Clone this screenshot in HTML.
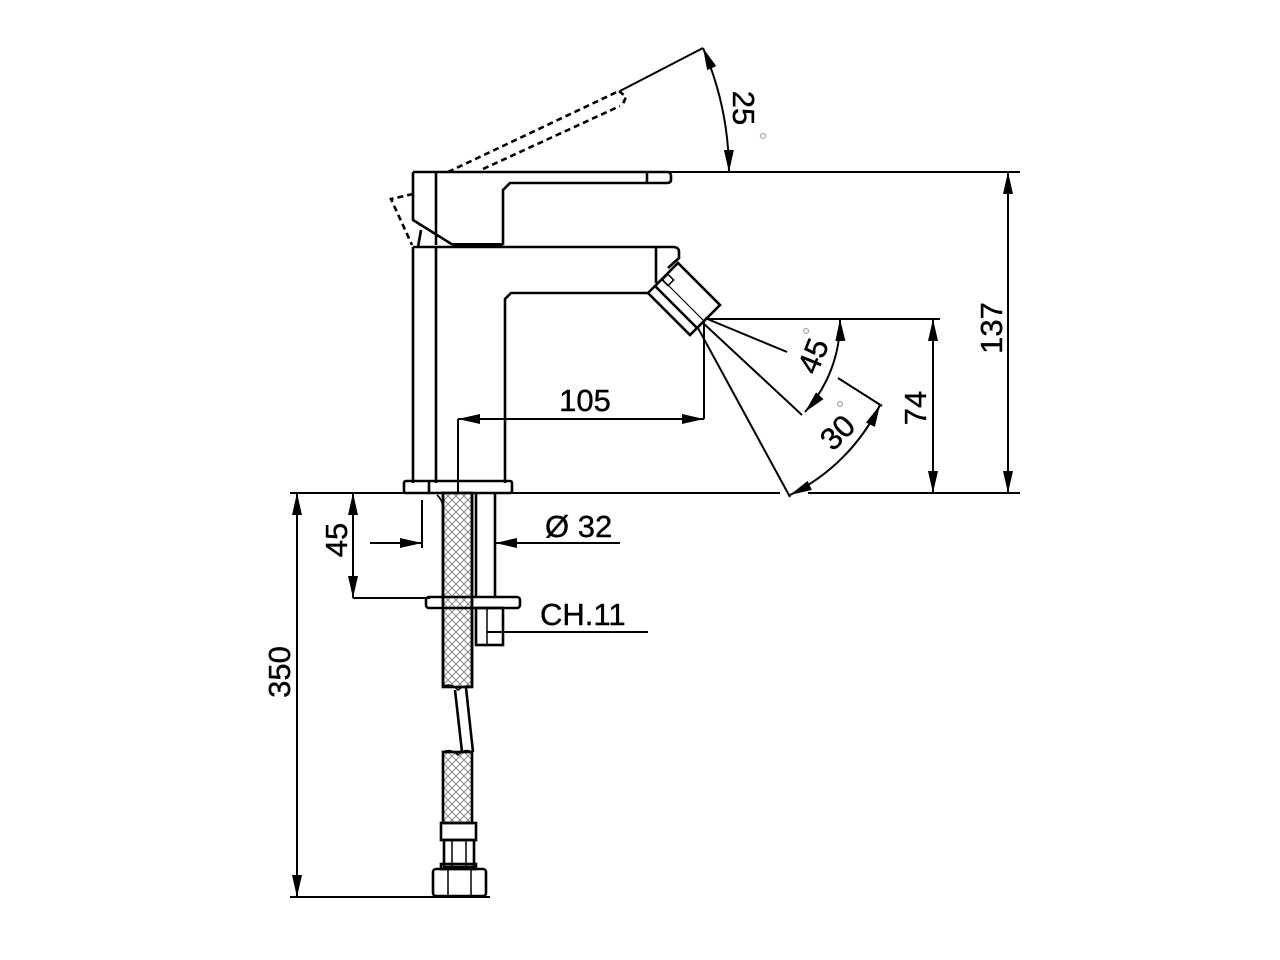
<!DOCTYPE html>
<html><head><meta charset="utf-8"><style>html,body{margin:0;padding:0;background:#fff}svg{display:block}</style></head>
<body>
<svg width="1280" height="960" viewBox="0 0 1280 960" xmlns="http://www.w3.org/2000/svg" font-family="Liberation Sans, sans-serif">
<defs>
<marker id="a" viewBox="0 0 22 10" refX="22" refY="5" markerWidth="22" markerHeight="10" markerUnits="userSpaceOnUse" orient="auto-start-reverse">
<path d="M0,0 L22,5 L0,10 Z" fill="#000"/></marker>
<pattern id="h" width="8" height="8" patternUnits="userSpaceOnUse">
<rect width="8" height="8" fill="#fff"/>
<path d="M0,0 L8,8 M8,0 L0,8" stroke="#888" stroke-width="1"/></pattern>
</defs>
<g stroke="#000" fill="none" stroke-width="2.6">
<line x1="290" y1="493" x2="780" y2="493" stroke-width="2"/>
<line x1="808" y1="493" x2="1020" y2="493" stroke-width="2"/>
<path d="M413,172 L668,172 Q671,172 671,177 L671,180 Q671,183 666,183 L510,183 L503,190 L503,245"/>
<line x1="647" y1="172" x2="647" y2="183"/>
<path d="M413,172 L413,220 L453,245 L503,245"/>
<line x1="436" y1="172" x2="436" y2="245"/>
<line x1="453" y1="245" x2="503" y2="245" stroke-width="4"/>
<line x1="418" y1="247" x2="421" y2="230"/>
<g stroke-dasharray="6,4">
<line x1="448" y1="172" x2="619" y2="91"/>
<line x1="483" y1="169" x2="620" y2="106"/>
<path d="M619,91 L626,97 L622,106"/>
<path d="M413,194 L391,199 L412,245"/>
</g>
<line x1="620" y1="91" x2="703" y2="48" stroke-width="2"/>
<path d="M413,247 L673,247 Q679,247 679,252 L679,258 L668,268"/>
<line x1="656" y1="247" x2="656" y2="283"/>
<path d="M648,293 L511,293 L505,299 L505,483"/>
<line x1="413" y1="247" x2="413" y2="483"/>
<line x1="436" y1="247" x2="436" y2="483"/>
<rect x="404" y="481" width="108" height="12" rx="2"/>
<line x1="429" y1="481" x2="429" y2="493"/>
<polygon points="648,293 678,263 720,305 690,335"/>
<line x1="655" y1="286" x2="697" y2="328"/>
<line x1="662" y1="279" x2="704" y2="321" stroke-width="1.2"/>
<rect x="664" y="276" width="8" height="8" transform="rotate(45 668 280)" stroke-width="1.5"/>
<g stroke-width="2">
<line x1="705" y1="318" x2="787" y2="352"/>
<line x1="702" y1="322" x2="802" y2="415"/>
<line x1="698" y1="328" x2="790" y2="497"/>
<line x1="838" y1="378" x2="882" y2="406"/>
<line x1="705" y1="319" x2="940" y2="319"/>
<line x1="704" y1="322" x2="704" y2="419"/>
<line x1="458" y1="419" x2="458" y2="493"/>
<line x1="458" y1="419" x2="704" y2="419" marker-start="url(#a)" marker-end="url(#a)"/>
<line x1="933" y1="319" x2="933" y2="493" marker-start="url(#a)" marker-end="url(#a)"/>
<line x1="668" y1="172" x2="1020" y2="172"/>
<line x1="1008" y1="172" x2="1008" y2="493" marker-start="url(#a)" marker-end="url(#a)"/>
<path d="M840,319 A135,135 0 0 1 805,412" marker-start="url(#a)" marker-end="url(#a)"/>
<path d="M880,405 A195,195 0 0 1 790,495" marker-start="url(#a)" marker-end="url(#a)"/>
<path d="M703,48 A316,316 0 0 1 729,172" marker-start="url(#a)" marker-end="url(#a)"/>
<line x1="297" y1="493" x2="297" y2="897" marker-start="url(#a)" marker-end="url(#a)"/>
<line x1="353" y1="493" x2="353" y2="598" marker-start="url(#a)" marker-end="url(#a)"/>
<line x1="353" y1="598" x2="430" y2="598"/>
<line x1="422" y1="500" x2="422" y2="548"/>
<line x1="370" y1="543" x2="422" y2="543" marker-end="url(#a)"/>
<line x1="620" y1="543" x2="495" y2="543" marker-end="url(#a)"/>
<line x1="487" y1="632" x2="648" y2="632"/>
<line x1="290" y1="897" x2="490" y2="897"/>
</g>
<rect x="443" y="493" width="29" height="194" fill="url(#h)"/>
<line x1="443" y1="493" x2="443" y2="687"/>
<line x1="472" y1="493" x2="472" y2="687"/>
<path d="M443,687 Q450,682 458,690 Q465,684 472,687" stroke-width="1.5"/>
<path d="M437,495 Q443,500 443,510" stroke-width="1.5"/>
<line x1="476" y1="493" x2="476" y2="598"/>
<line x1="495" y1="493" x2="495" y2="598"/>
<rect x="426" y="597" width="94" height="11" rx="3"/>
<rect x="476" y="608" width="27" height="37"/>
<line x1="487" y1="608" x2="487" y2="645" stroke-width="1.5"/>
<line x1="455" y1="690" x2="462" y2="752"/>
<line x1="466" y1="688" x2="473" y2="752"/>
<rect x="443" y="752" width="29" height="71" fill="url(#h)"/>
<path d="M443,752 Q450,748 458,755 Q465,748 472,752" stroke-width="1.5"/>
<rect x="441" y="823" width="35" height="17"/>
<rect x="444" y="840" width="30" height="27"/>
<line x1="452" y1="840" x2="452" y2="867" stroke-width="1.5"/>
<line x1="466" y1="840" x2="466" y2="867" stroke-width="1.5"/>
<rect x="441" y="864" width="35" height="5"/>
<rect x="433" y="869" width="53" height="27" rx="3"/>
<line x1="448" y1="869" x2="448" y2="896" stroke-width="1.5"/>
<line x1="471" y1="869" x2="471" y2="896" stroke-width="1.5"/>
</g>
<g fill="none" stroke="#aaa" stroke-width="1.2">
<circle cx="763" cy="136" r="2.5"/><circle cx="806" cy="331" r="2.5"/><circle cx="840" cy="404" r="2.5"/>
</g>
<g fill="#000" font-size="31" stroke="#000" stroke-width="0.4">
<text x="585" y="411" text-anchor="middle">105</text>
<text x="545" y="537">Ø 32</text>
<text x="540" y="625">CH.11</text>
<text transform="translate(1002,328) rotate(-90)" text-anchor="middle">137</text>
<text transform="translate(926,408) rotate(-90)" text-anchor="middle">74</text>
<text transform="translate(347,540) rotate(-90)" text-anchor="middle">45</text>
<text transform="translate(290,672) rotate(-90)" text-anchor="middle">350</text>
<text transform="translate(733,108) rotate(90)" text-anchor="middle">25</text>
<text transform="translate(823,360) rotate(-68)" text-anchor="middle">45</text>
<text transform="translate(845,440) rotate(-45)" text-anchor="middle">30</text>
</g>
</svg>
</body></html>
